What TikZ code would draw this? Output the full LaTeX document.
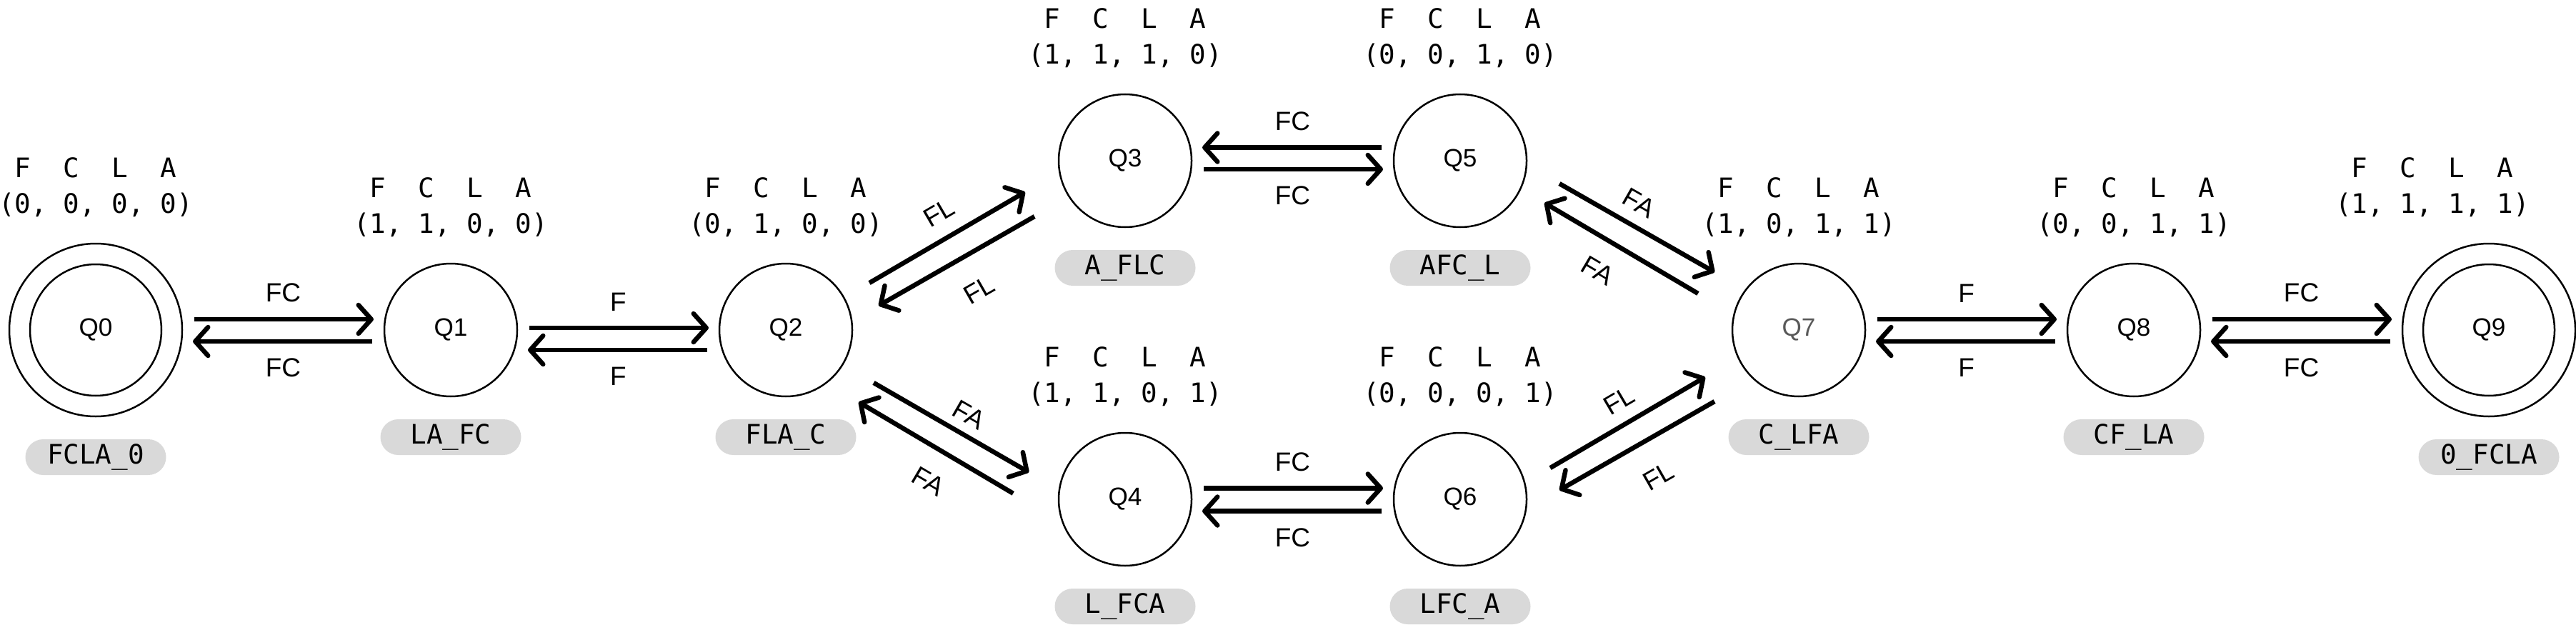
\documentclass[tikz,border=0pt]{standalone}
\usepackage{fontspec}
\setmainfont{Liberation Sans}
\newfontfamily\monof{DejaVu Sans Mono}
\usetikzlibrary{positioning,arrows.meta}
\tikzset{
qstate/.style={circle,draw,line width=0.025cm,minimum size=1.86cm,inner sep=0pt,outer sep=0pt,font=\fontsize{10}{12}\selectfont},
qfinal/.style={qstate,minimum size=2.42cm,
path picture={\draw[line width=0.025cm] (path picture bounding box.center) circle (0.92cm);}},
tuple/.style={font=\monof\fontsize{10.7}{14.2}\selectfont,align=center,inner sep=0pt,outer sep=0pt},
tag/.style={fill=black!15,rounded corners=0.25cm,minimum width=1.97cm,minimum height=0.5cm,
inner sep=0pt,outer sep=0pt,font=\monof\fontsize{10.7}{12}\selectfont},
move/.style={-{Straight Barb[length=0.18cm,width=0.4cm,round]},line width=0.065cm},
hmove/.style={move,shorten <=0.17cm,shorten >=0.15cm},
act/.style={font=\fontsize{10.5}{12}\selectfont,inner sep=0pt,outer sep=0pt}
}

\begin{document}
\begin{tikzpicture}
\useasboundingbox (0,0) rectangle (36.06,-8.75);
% states
\node[qfinal] (Q0) at (1.34,-4.62) {Q0};
\node[qstate,right=2.83cm of Q0] (Q1) {Q1};
\node[qstate,right=2.83cm of Q1] (Q2) {Q2};
\node[qstate] (Q3) at (15.75,-2.25) {Q3};
\node[qstate,right=2.83cm of Q3] (Q5) {Q5};
\node[qstate] (Q4) at (15.75,-6.99) {Q4};
\node[qstate,right=2.83cm of Q4] (Q6) {Q6};
\node[qstate,text=black!65] (Q7) at (25.18,-4.62) {Q7};
\node[qstate,right=2.83cm of Q7] (Q8) {Q8};
\node[qfinal,right=2.83cm of Q8] (Q9) {Q9};
% bank tuples and side tags
\foreach \q/\bits/\side/\dx in {Q0/{0, 0, 0, 0}/FCLA\_0/0,Q1/{1, 1, 0, 0}/LA\_FC/0,Q2/{0, 1, 0, 0}/FLA\_C/0,
Q3/{1, 1, 1, 0}/A\_FLC/0,Q5/{0, 0, 1, 0}/AFC\_L/0,Q4/{1, 1, 0, 1}/L\_FCA/0,Q6/{0, 0, 0, 1}/LFC\_A/0,
Q7/{1, 0, 1, 1}/C\_LFA/0,Q8/{0, 0, 1, 1}/CF\_LA/0,Q9/{1, 1, 1, 1}/0\_FCLA/-0.79}{
\node[tuple,above=0.37cm of \q,xshift=\dx cm] (t\q) {F~~C~~L~~A\\(\bits)};
\node[tag,below=0.32cm of \q] (s\q) {\side};
}
% crossings
\draw[hmove] ([yshift=0.15cm]Q0.east) -- node[act,above=0.24cm]{FC} ([yshift=0.15cm]Q1.west);
\draw[hmove] ([yshift=-0.16cm]Q1.west) -- node[act,below=0.24cm]{FC} ([yshift=-0.16cm]Q0.east);
\draw[hmove] ([yshift=0.03cm]Q1.east) -- node[act,above=0.24cm]{F} ([yshift=0.03cm]Q2.west);
\draw[hmove] ([yshift=-0.28cm]Q2.west) -- node[act,below=0.24cm]{F} ([yshift=-0.28cm]Q1.east);
\draw[move] ([shift={(29.4:1.343)}]Q2.center) -- node[act,sloped,above=0.23cm,pos=0.53]{FL} ([shift={(197.4:1.468)}]Q3.center);
\draw[move] ([shift={(211.6:1.49)}]Q3.center) -- node[act,sloped,below=0.38cm,pos=0.47]{FL} ([shift={(14.7:1.344)}]Q2.center);
\draw[move] ([shift={(-31:1.435)}]Q2.center) -- node[act,sloped,above=0.15cm,pos=0.55]{FA} ([shift={(164.3:1.40)}]Q4.center);
\draw[move] ([shift={(177:1.57)}]Q4.center) -- node[act,sloped,below=0.33cm,pos=0.44]{FA} ([shift={(-44.7:1.435)}]Q2.center);
\draw[hmove] ([yshift=0.185cm]Q5.west) -- node[act,above=0.24cm]{FC} ([yshift=0.185cm]Q3.east);
\draw[hmove] ([yshift=-0.12cm]Q3.east) -- node[act,below=0.24cm]{FC} ([yshift=-0.12cm]Q5.west);
\draw[hmove] ([yshift=0.155cm]Q4.east) -- node[act,above=0.24cm]{FC} ([yshift=0.155cm]Q6.west);
\draw[hmove] ([yshift=-0.165cm]Q6.west) -- node[act,below=0.24cm]{FC} ([yshift=-0.165cm]Q4.east);
\draw[move] ([shift={(-13:1.426)}]Q5.center) -- node[act,sloped,above=0.19cm,pos=0.44]{FA} ([shift={(145.5:1.43)}]Q7.center);
\draw[move] ([shift={(160.1:1.50)}]Q7.center) -- node[act,sloped,below=0.31cm,pos=0.55]{FA} ([shift={(-26.6:1.32)}]Q5.center);
\draw[move] ([shift={(19.2:1.335)}]Q6.center) -- node[act,sloped,above=0.2cm,pos=0.52]{FL} ([shift={(206.7:1.467)}]Q7.center);
\draw[move] ([shift={(220.3:1.547)}]Q7.center) -- node[act,sloped,below=0.39cm,pos=0.48]{FL} ([shift={(5.3:1.396)}]Q6.center);
\draw[hmove] ([yshift=0.15cm]Q7.east) -- node[act,above=0.24cm]{F} ([yshift=0.15cm]Q8.west);
\draw[hmove] ([yshift=-0.16cm]Q8.west) -- node[act,below=0.24cm]{F} ([yshift=-0.16cm]Q7.east);
\draw[hmove] ([yshift=0.15cm]Q8.east) -- node[act,above=0.24cm]{FC} ([yshift=0.15cm]Q9.west);
\draw[hmove] ([yshift=-0.16cm]Q9.west) -- node[act,below=0.24cm]{FC} ([yshift=-0.16cm]Q8.east);
\end{tikzpicture}
\end{document}
